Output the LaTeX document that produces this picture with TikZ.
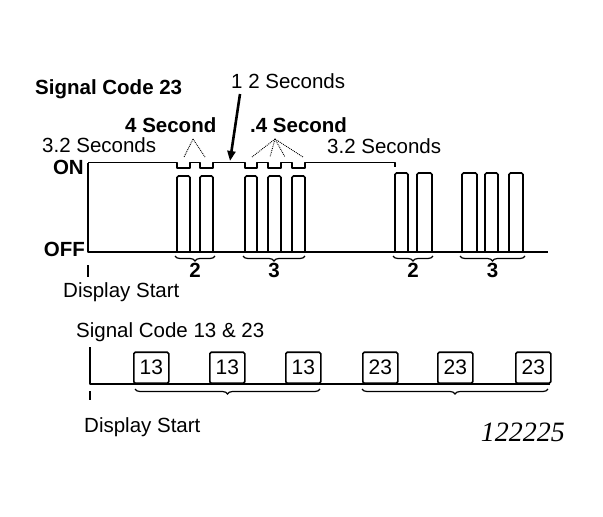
\documentclass[tikz,border=0pt]{standalone}
\usepackage{fontspec}
\setmainfont{Liberation Sans}
\newfontfamily\numfont{Liberation Serif}
\usetikzlibrary{arrows.meta, positioning, decorations.pathreplacing}

\begin{document}
\begin{tikzpicture}[
  x=1pt, y=-1pt,
  node distance=4pt and 5pt,
  txt/.style={font=\fontsize{20.5}{24}\selectfont, inner sep=0pt},
  btxt/.style={font=\fontsize{20.5}{24}\selectfont\bfseries, inner sep=0pt},
  wave/.style={line width=1.6pt, line join=round},
  pulse/.style={line width=1.6pt, rounded corners=1.5pt},
  brc/.style={decorate, decoration={brace, mirror, amplitude=5pt}, line width=1.2pt},
  codebox/.style={draw, line width=1.6pt, rounded corners=1.5pt,
    minimum width=35pt, minimum height=31pt, inner sep=0pt,
    font=\fontsize{21}{24}\selectfont, anchor=south west},
  lead/.style={densely dotted, line width=0.9pt},
  arr/.style={-{Triangle[length=10pt, width=8pt]}, line width=2.6pt}
]
  \useasboundingbox (0,0) rectangle (603,517);

  % signal code 23
  \node[btxt, anchor=base west] (title) at (35,94) {Signal Code 23};
  \node[txt, anchor=base west] (onesec) at (231,88) {1 2 Seconds};
  \node[btxt, anchor=base west] (foursec) at (125,132) {4 Second};
  \node[btxt, anchor=base west] (pfoursec) at (250,132) {.4 Second};
  \node[txt, anchor=base west] (leftdur) at (42,152) {3.2 Seconds};
  \node[txt, anchor=base west] (rightdur) at (327,153) {3.2 Seconds};

  \coordinate (on) at (84,174);
  \coordinate (off) at (85,256);
  \node[btxt, anchor=base east] (onlbl) at (on) {ON};
  \node[btxt, anchor=base east] (offlbl) at (off) {OFF};

  \draw[wave] (88,162.5) -- (88,252) -- (548,252);
  \draw[wave] (88,162.5) -- (177,162.5) -- (177,168) -- (190,168) -- (190,162.5)
    -- (200,162.5) -- (200,168) -- (213,168) -- (213,162.5) -- (245,162.5)
    -- (245,168) -- (257,168) -- (257,162.5) -- (268,162.5) -- (268,168)
    -- (281,168) -- (281,162.5) -- (292,162.5) -- (292,168) -- (305,168)
    -- (305,162.5) -- (395,162.5) -- (395,167);

  \foreach \a/\b/\t in {177/190/176, 200/213/176, 245/257/176, 268/281/176,
      292/305/176, 395/408/173, 417/432/173, 462/477/173, 485/498/173, 509/523/173}
    \draw[pulse] (\a,252) -- (\a,\t) -- (\b,\t) -- (\b,252);

  \coordinate (arrtail) at (240,94);
  \coordinate (arrtip) at (230,161);
  \draw[arr] (arrtail) -- (arrtip);

  \coordinate (apex1) at (193,139);
  \coordinate (apex2) at (275,139);
  \foreach \x in {184,205}
    \draw[lead] (apex1) -- (\x,157);
  \foreach \x in {252,270,285,303}
    \draw[lead] (apex2) -- (\x,157);

  \foreach \a/\b/\y/\n [count=\i] in {175/215/256/2, 243/305/256/3,
      393/433/256/2, 460/525/256/3}
    \draw[brc] (\a,\y) -- node[btxt, below=7pt] (cnt\i) {\n} (\b,\y);

  \coordinate (start1) at (88,265);
  \draw[wave] (start1) -- (88,277);
  \node[txt, anchor=base west] (disp1) at (63,297) {Display Start};

  % signal code 13 and 23
  \node[txt, anchor=base west] (title2) at (76,337) {Signal Code 13 \& 23};
  \draw[wave] (90,347) -- (90,384) -- (550,384);
  \foreach \x/\n [count=\i] in {133/13, 209/13, 285/13, 362/23, 437/23, 515/23}
    \node[codebox] (box\i) at (\x,384) {\n};
  \draw[brc] (135,389) -- (320,389);
  \draw[brc] (362,389) -- (548,389);

  \coordinate (start2) at (90,391);
  \draw[wave] (start2) -- (90,400);
  \node[txt, anchor=base west] (disp2) at (84,432) {Display Start};

  \node[font=\numfont\itshape\fontsize{28}{30}\selectfont, inner sep=0pt,
    anchor=base east] (figno) at (565,441) {122225};
\end{tikzpicture}
\end{document}
